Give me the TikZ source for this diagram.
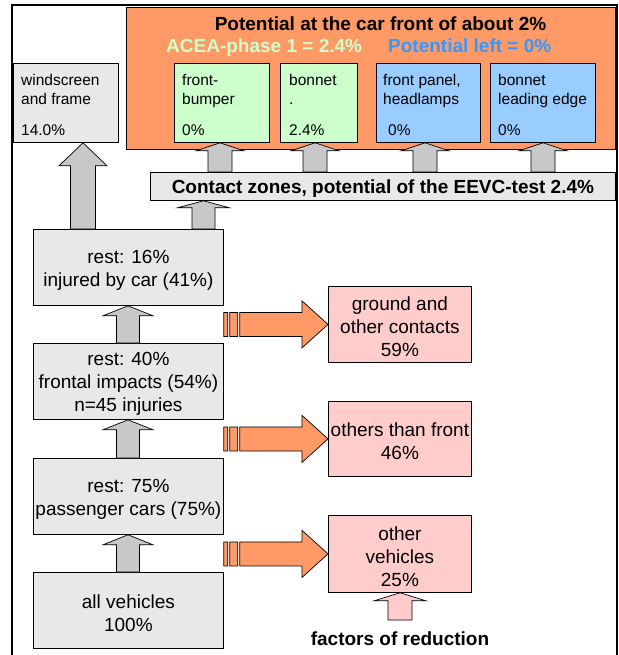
\documentclass[tikz,border=0pt]{standalone}
\usepackage{fontspec}
\setmainfont{Liberation Sans}
\usetikzlibrary{calc}
\definecolor{boxgray}{RGB}{232,232,232}
\definecolor{arrgray}{RGB}{200,200,200}
\definecolor{orng}{RGB}{255,153,102}
\definecolor{lgreen}{RGB}{204,255,204}
\definecolor{lblue}{RGB}{153,204,255}
\definecolor{tblue}{RGB}{51,153,255}
\definecolor{lpink}{RGB}{255,204,204}
\newcommand{\topstrut}{\rule{0pt}{18.5pt}}
% #1 fill, #2 x, #3 from, #4 to, #5 shaft half width, #6 head half width, #7 head length
\newcommand{\upblk}[7]{%
  \filldraw[fill=#1,draw=black,line width=0.7pt,line join=miter]
    let \p1=(#3), \p2=(#4) in
    (#2pt-#5pt,\y1) -- (#2pt-#5pt,\y2-#7pt) -- (#2pt-#6pt,\y2-#7pt) -- (#2pt,\y2)
    -- (#2pt+#6pt,\y2-#7pt) -- (#2pt+#5pt,\y2-#7pt) -- (#2pt+#5pt,\y1) -- cycle;}
% striped right arrow: #1 from (x used), #2 to (x,y used)
\newcommand{\rtblk}[2]{%
  \filldraw[fill=orng,draw=black,line width=0.7pt,line join=miter]
    let \p1=(#1), \p2=(#2) in
    (\x1,\y2-12pt) rectangle (\x1+4pt,\y2+12pt)
    (\x1+6pt,\y2-12pt) rectangle (\x1+14pt,\y2+12pt)
    (\x1+16pt,\y2-12pt) -- (\x2-26pt,\y2-12pt) -- (\x2-26pt,\y2-23.5pt) -- (\x2,\y2)
    -- (\x2-26pt,\y2+23.5pt) -- (\x2-26pt,\y2+12pt) -- (\x1+16pt,\y2+12pt) -- cycle;}
\begin{document}
\begin{tikzpicture}[x=1pt,y=-1pt,
  bx/.style={draw=black,line width=0.8pt,anchor=north west,inner sep=0pt,align=center,
    font=\fontsize{19}{23}\selectfont},
  graybox/.style={bx,fill=boxgray,minimum width=190pt,minimum height=76pt},
  pinkbox/.style={bx,fill=lpink,minimum width=143pt},
  smallbox/.style={bx,minimum height=79pt},
  smalltxt/.style={anchor=north west,inner sep=0pt,align=left,font=\fontsize{15.5}{19}\selectfont},
  boldtxt/.style={font=\fontsize{19}{23}\selectfont\bfseries,inner sep=0pt}]
\useasboundingbox (0,0) rectangle (618,655);
\fill[white] (0,0) rectangle (618,655);
\draw[line width=1.8pt] (12,656) -- (12,5) -- (617,5) -- (617,656);

% top orange panel
\node[bx,fill=orng,minimum width=489pt,minimum height=142pt] (panel) at (126,7) {};
\node[boldtxt,anchor=base] (title) at (380.5,31) {Potential at the car front of about 2\%};
\node[boldtxt,anchor=base west,text=lgreen] (acea) at (166,53) {ACEA-phase 1 = 2.4\%};
\node[boldtxt,anchor=base west,text=tblue] (left) at (388,53) {Potential left = 0\%};

% small boxes
\node[smallbox,fill=boxgray,minimum width=105pt] (ws) at (13,63) {};
\node[smallbox,fill=lgreen,minimum width=95pt] (fb) at (174,63) {};
\node[smallbox,fill=lgreen,minimum width=77pt] (bon) at (280,63) {};
\node[smallbox,fill=lblue,minimum width=104pt] (fp) at (376,63) {};
\node[smallbox,fill=lblue,minimum width=105pt] (ble) at (490,63) {};
\node[smalltxt] (wst) at ($(ws.north west)+(8,11.2)$) {windscreen\\and frame\\[11.5pt]14.0\%};
\node[smalltxt] (fbt) at ($(fb.north west)+(8,11.2)$) {front-\\bumper\\[11.5pt]0\%};
\node[smalltxt] (bont) at ($(bon.north west)+(9,11.2)$) {bonnet\\.\\[11.5pt]2.4\%};
\node[smalltxt] (fpt) at ($(fp.north west)+(7,11.2)$) {front panel,\\headlamps\\[11.5pt]\hspace*{5pt}0\%};
\node[smalltxt] (blet) at ($(ble.north west)+(8,11.2)$) {bonnet\\leading edge\\[11.5pt]0\%};

% contact zones
\node[bx,fill=boxgray,minimum width=465pt,minimum height=28pt,font=\fontsize{19}{23}\selectfont\bfseries,
  text height=13.6pt,text depth=0pt] (contact) at (150,172) {Contact zones, potential of the EEVC-test 2.4\%};

% gray chain
\node[graybox] (rest16) at (33,229) {\topstrut rest: 16\%\\injured by car (41\%)};
\node[graybox] (rest40) at (33,343) {\topstrut rest: 40\%\\frontal impacts (54\%)\\n=45 injuries};
\node[graybox] (rest75) at (33,458) {\topstrut rest: 75\%\\passenger cars (75\%)};
\node[graybox] (all) at (33,572) {\topstrut all vehicles\\100\%};

% pink boxes
\node[pinkbox,minimum height=76pt] (ground) at (328,286) {\topstrut ground and\\other contacts\\59\%};
\node[pinkbox,minimum height=75pt] (others) at (328,401) {\topstrut others than front\\46\%};
\node[pinkbox,minimum height=77pt] (ov) at (328,515) {\topstrut other\\vehicles\\25\%};
\node[boldtxt,anchor=base] (factors) at (400,645) {factors of reduction};
\coordinate (fbot) at (400,620);

% gray arrows
\upblk{arrgray}{128}{all.north}{rest75.south}{11.5}{25}{10}
\upblk{arrgray}{128}{rest75.north}{rest40.south}{11.5}{25}{10}
\upblk{arrgray}{128}{rest40.north}{rest16.south}{11.5}{25}{10}
\upblk{arrgray}{83}{rest16.north}{ws.south}{12.5}{24}{23}
\upblk{arrgray}{203.5}{rest16.north}{contact.south}{11.5}{26}{7}
\upblk{arrgray}{220}{contact.north}{fb.south}{12}{24}{8}
\upblk{arrgray}{315}{contact.north}{bon.south}{12}{24}{8}
\upblk{arrgray}{425}{contact.north}{fp.south}{12}{24}{8}
\upblk{arrgray}{543}{contact.north}{ble.south}{12}{24}{8}
\upblk{lpink}{400}{fbot}{ov.south}{12}{26}{8}

% orange striped arrows
\rtblk{rest16.east}{ground.west}
\rtblk{rest40.east}{others.west}
\rtblk{rest75.east}{ov.west}
\end{tikzpicture}
\end{document}
